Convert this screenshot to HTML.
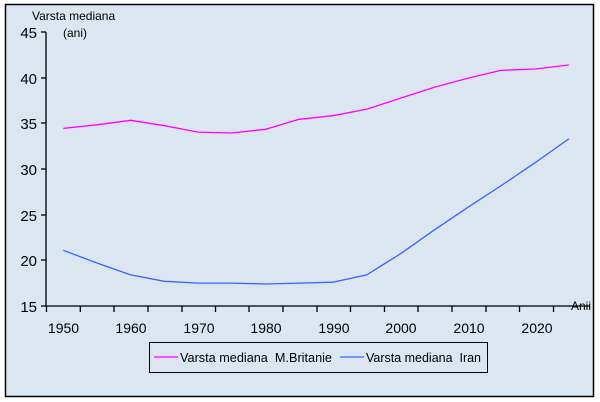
<!DOCTYPE html>
<html><head><meta charset="utf-8"><style>
html,body{margin:0;padding:0;background:#fff;}
svg{display:block;font-family:"Liberation Sans",Arial,sans-serif;}
</style></head><body>
<svg width="600" height="402" viewBox="0 0 600 402">
<rect x="5.5" y="4.5" width="588" height="392" fill="#dce6f0" stroke="#000" stroke-width="1.5"/>
<g stroke="#000" stroke-width="1.3" fill="none">
<line x1="46" y1="32" x2="46" y2="306"/>
<line x1="46" y1="306" x2="590" y2="306"/>
<line x1="41" y1="32" x2="46" y2="32"/>
<line x1="41" y1="78" x2="46" y2="78"/>
<line x1="41" y1="123" x2="46" y2="123"/>
<line x1="41" y1="169" x2="46" y2="169"/>
<line x1="41" y1="215" x2="46" y2="215"/>
<line x1="41" y1="260" x2="46" y2="260"/>
<line x1="41" y1="306" x2="46" y2="306"/>
</g>
<g stroke="#000" stroke-width="1.3">
<line x1="46.5" y1="306" x2="46.5" y2="312"/><line x1="80.3" y1="306" x2="80.3" y2="312"/><line x1="114" y1="306" x2="114" y2="312"/><line x1="148" y1="306" x2="148" y2="312"/><line x1="182" y1="306" x2="182" y2="312"/><line x1="215.5" y1="306" x2="215.5" y2="312"/><line x1="249" y1="306" x2="249" y2="312"/><line x1="283" y1="306" x2="283" y2="312"/><line x1="317" y1="306" x2="317" y2="312"/><line x1="350.5" y1="306" x2="350.5" y2="312"/><line x1="384.5" y1="306" x2="384.5" y2="312"/><line x1="418" y1="306" x2="418" y2="312"/><line x1="452" y1="306" x2="452" y2="312"/><line x1="486" y1="306" x2="486" y2="312"/><line x1="519.5" y1="306" x2="519.5" y2="312"/><line x1="553.5" y1="306" x2="553.5" y2="312"/>
</g>
<g font-size="15" fill="#000" text-anchor="end">
<text x="37" y="38">45</text><text x="37" y="84">40</text><text x="37" y="129">35</text><text x="37" y="175">30</text><text x="37" y="221">25</text><text x="37" y="266">20</text><text x="37" y="312">15</text>
</g>
<g font-size="14" fill="#000" text-anchor="middle">
<text x="63.5" y="333">1950</text><text x="131" y="333">1960</text><text x="199" y="333">1970</text><text x="266" y="333">1980</text><text x="334" y="333">1990</text><text x="401" y="333">2000</text><text x="469" y="333">2010</text><text x="537" y="333">2020</text>
</g>
<text x="32" y="20" font-size="12">Varsta mediana</text>
<text x="63" y="37" font-size="12">(ani)</text>
<text x="571" y="310" font-size="12">Anii</text>
<polyline fill="none" stroke="#ff00ff" stroke-width="1.3" points="63.3,128.4 97,124.8 130.7,120.3 164.4,125.7 198.1,132.1 231.8,133 265.5,129.3 299.2,119.3 332.9,115.7 366.6,109.3 400.3,98.3 434,87.4 467.7,78.3 501.4,70.3 535.1,69 568.8,65"/>
<polyline fill="none" stroke="#3366ff" stroke-width="1.3" points="63.3,250.3 97,263 130.7,274.9 164.4,281.3 198.1,283.1 231.8,283.1 265.5,284 299.2,283.1 332.9,282.2 366.6,274.9 400.3,253.9 434,230.2 467.7,207.4 501.4,185.5 535.1,162.7 568.8,138.9"/>
<rect x="149.5" y="342.5" width="338" height="30" fill="#dce6f0" stroke="#000" stroke-width="1"/>
<line x1="154" y1="357" x2="178" y2="357" stroke="#ff00ff" stroke-width="1.3"/>
<text x="180" y="362" font-size="13" textLength="152" lengthAdjust="spacingAndGlyphs">Varsta mediana&#160;&#160;M.Britanie</text>
<line x1="340" y1="357" x2="364" y2="357" stroke="#3366ff" stroke-width="1.3"/>
<text x="366" y="362" font-size="13" textLength="115" lengthAdjust="spacingAndGlyphs">Varsta mediana&#160;&#160;Iran</text>
</svg>
</body></html>
